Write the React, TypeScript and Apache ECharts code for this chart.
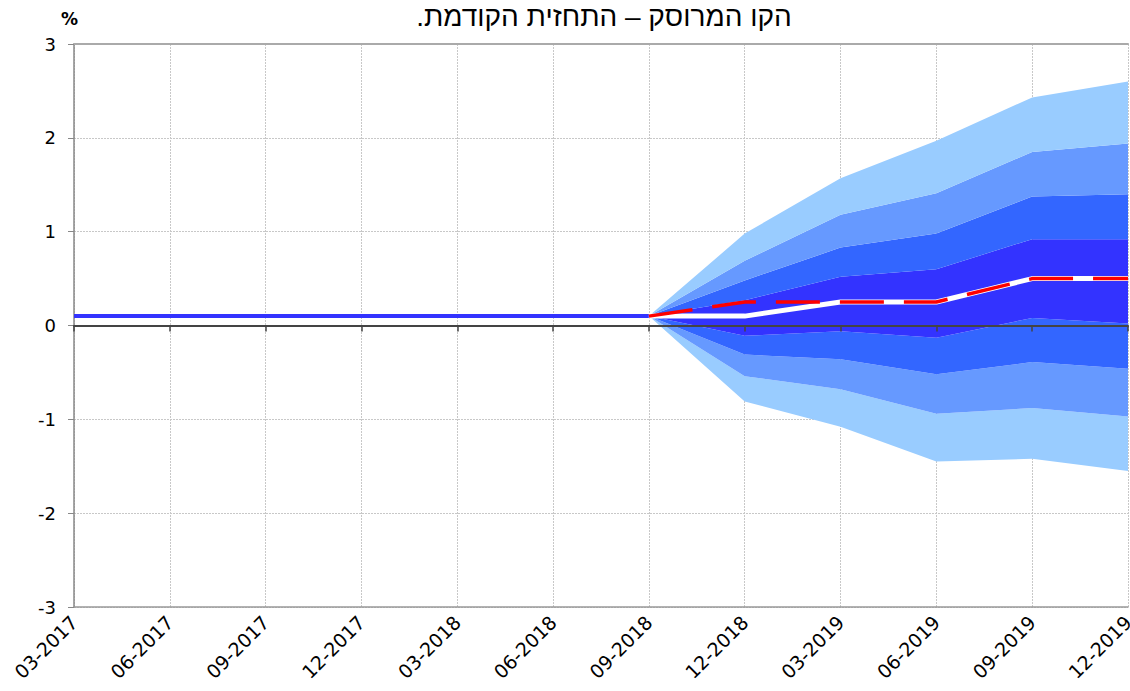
import React, { useEffect, useRef } from "react";
import * as echarts from "echarts";

const categories = [
  "03-2017", "06-2017", "09-2017", "12-2017", "03-2018", "06-2018",
  "09-2018", "12-2018", "03-2019", "06-2019", "09-2019", "12-2019",
];
const yTicks = [-3, -2, -1, 0, 1, 2, 3];

// actual rate (history)
const history = [0.1, 0.1, 0.1, 0.1, 0.1, 0.1, 0.1, null, null, null, null, null];
// current forecast (white)
const forecast = [null, null, null, null, null, null, 0.1, 0.1, 0.25, 0.25, 0.5, 0.5];
// previous forecast (red dashed)
const prevForecast = [null, null, null, null, null, null, 0.1, 0.25, 0.25, 0.25, 0.5, 0.5];

// fan chart bounds (from 09-2018)
const outerUp = [null, null, null, null, null, null, 0.1, 0.98, 1.57, 1.97, 2.43, 2.6];
const secondUp = [null, null, null, null, null, null, 0.1, 0.69, 1.18, 1.41, 1.85, 1.94];
const thirdUp = [null, null, null, null, null, null, 0.1, 0.48, 0.83, 0.98, 1.375, 1.4];
const innerUp = [null, null, null, null, null, null, 0.1, 0.27, 0.52, 0.6, 0.92, 0.92];
const innerLow = [null, null, null, null, null, null, 0.1, -0.11, -0.06, -0.13, 0.08, 0.02];
const thirdLow = [null, null, null, null, null, null, 0.1, -0.31, -0.36, -0.52, -0.39, -0.46];
const secondLow = [null, null, null, null, null, null, 0.1, -0.54, -0.68, -0.94, -0.88, -0.97];
const outerLow = [null, null, null, null, null, null, 0.1, -0.81, -1.08, -1.45, -1.42, -1.55];

const titleText = "\u200Fהקו המרוסק – התחזית הקודמת.\u200F";

function diff(a: (number | null)[], b: (number | null)[]) {
  return a.map((v, i) => (v == null || b[i] == null ? null : +(v - (b[i] as number)).toFixed(4)));
}

export default function App() {
  const ref = useRef<HTMLDivElement>(null);
  useEffect(() => {
    if (!ref.current) return;
    const chart = echarts.init(ref.current, null, { renderer: "svg" });
    const bounds = [outerLow, secondLow, thirdLow, innerLow, innerUp, thirdUp, secondUp, outerUp];
    const colors = ["#99CCFF", "#6699FF", "#3366FF", "#3333FF", "#3366FF", "#6699FF", "#99CCFF"];
    const fanSeries: any[] = [
      {
        type: "line",
        stack: "fan",
        stackStrategy: "all",
        data: outerLow,
        symbol: "none",
        lineStyle: { width: 0 },
        silent: true,
        z: 1,
      },
    ];
    for (let i = 1; i < bounds.length; i++) {
      fanSeries.push({
        type: "line",
        stack: "fan",
        stackStrategy: "all",
        data: diff(bounds[i], bounds[i - 1]),
        symbol: "none",
        lineStyle: { width: 0 },
        areaStyle: { color: colors[i - 1], opacity: 1 },
        silent: true,
        z: 1,
      });
    }
    const option: any = {
      animation: false,
      grid: { left: 74, right: 2, top: 44, bottom: 84, outerBoundsMode: "none" },
      graphic: [
        {
          type: "text",
          x: 604,
          y: 16,
          style: {
            text: titleText,
            font: "28px 'Liberation Sans', 'DejaVu Sans', sans-serif",
            fill: "#000",
            align: "center",
            verticalAlign: "middle",
          },
        },
        {
          type: "text",
          x: 61,
          y: 10,
          style: {
            text: "%",
            font: "bold 17px 'DejaVu Sans', sans-serif",
            fill: "#000",
          },
        },
      ],
      xAxis: [
        {
          type: "category",
          data: categories,
          boundaryGap: false,
          position: "bottom",
          axisLine: { onZero: false, lineStyle: { color: "#999", width: 1.5 } },
          axisTick: { show: false },
          axisLabel: {
            rotate: 45,
            margin: 12,
            interval: 0,
            fontFamily: "'DejaVu Sans', sans-serif",
            fontSize: 19,
            color: "#000",
          },
          splitLine: { show: true, lineStyle: { color: "#c8c8c8", width: 1, type: [2, 1] } },
        },
        {
          type: "category",
          data: categories,
          boundaryGap: false,
          position: "bottom",
          axisLine: { onZero: true, lineStyle: { color: "#444", width: 2 } },
          axisTick: { show: true, length: 6, interval: 0, lineStyle: { color: "#444", width: 1.5 } },
          axisLabel: { show: false },
          splitLine: { show: false },
          z: 10,
        },
        {
          type: "category",
          data: categories,
          boundaryGap: false,
          position: "top",
          axisLine: { onZero: false, lineStyle: { color: "#aaa", width: 2 } },
          axisTick: { show: false },
          axisLabel: { show: false },
          splitLine: { show: false },
        },
      ],
      yAxis: {
        type: "value",
        min: yTicks[0],
        max: yTicks[yTicks.length - 1],
        interval: 1,
        axisLine: { show: true, onZero: false, lineStyle: { color: "#888", width: 1.5 } },
        axisTick: { show: true, length: 6, lineStyle: { color: "#888" } },
        axisLabel: {
          margin: 18,
          fontFamily: "'DejaVu Sans', sans-serif",
          fontSize: 18,
          color: "#000",
        },
        splitLine: { show: true, lineStyle: { color: "#c8c8c8", width: 1, type: [2, 1] } },
      },
      series: [
        ...fanSeries,
        {
          type: "line",
          data: history,
          symbol: "none",
          lineStyle: { color: "#3333FF", width: 4 },
          z: 5,
        },
        {
          type: "line",
          data: forecast,
          symbol: "none",
          lineStyle: { color: "#FFFFFF", width: 5 },
          z: 6,
        },
        {
          type: "line",
          data: prevForecast,
          symbol: "none",
          lineStyle: { color: "#FF0000", width: 3.5, type: [44, 20] },
          z: 7,
        },
      ],
    };
    chart.setOption(option);
    return () => chart.dispose();
  }, []);
  return (
    <div
      ref={ref}
      style={{ position: "fixed", left: 0, top: 0, width: 1130, height: 691, background: "#fff" }}
    />
  );
}
